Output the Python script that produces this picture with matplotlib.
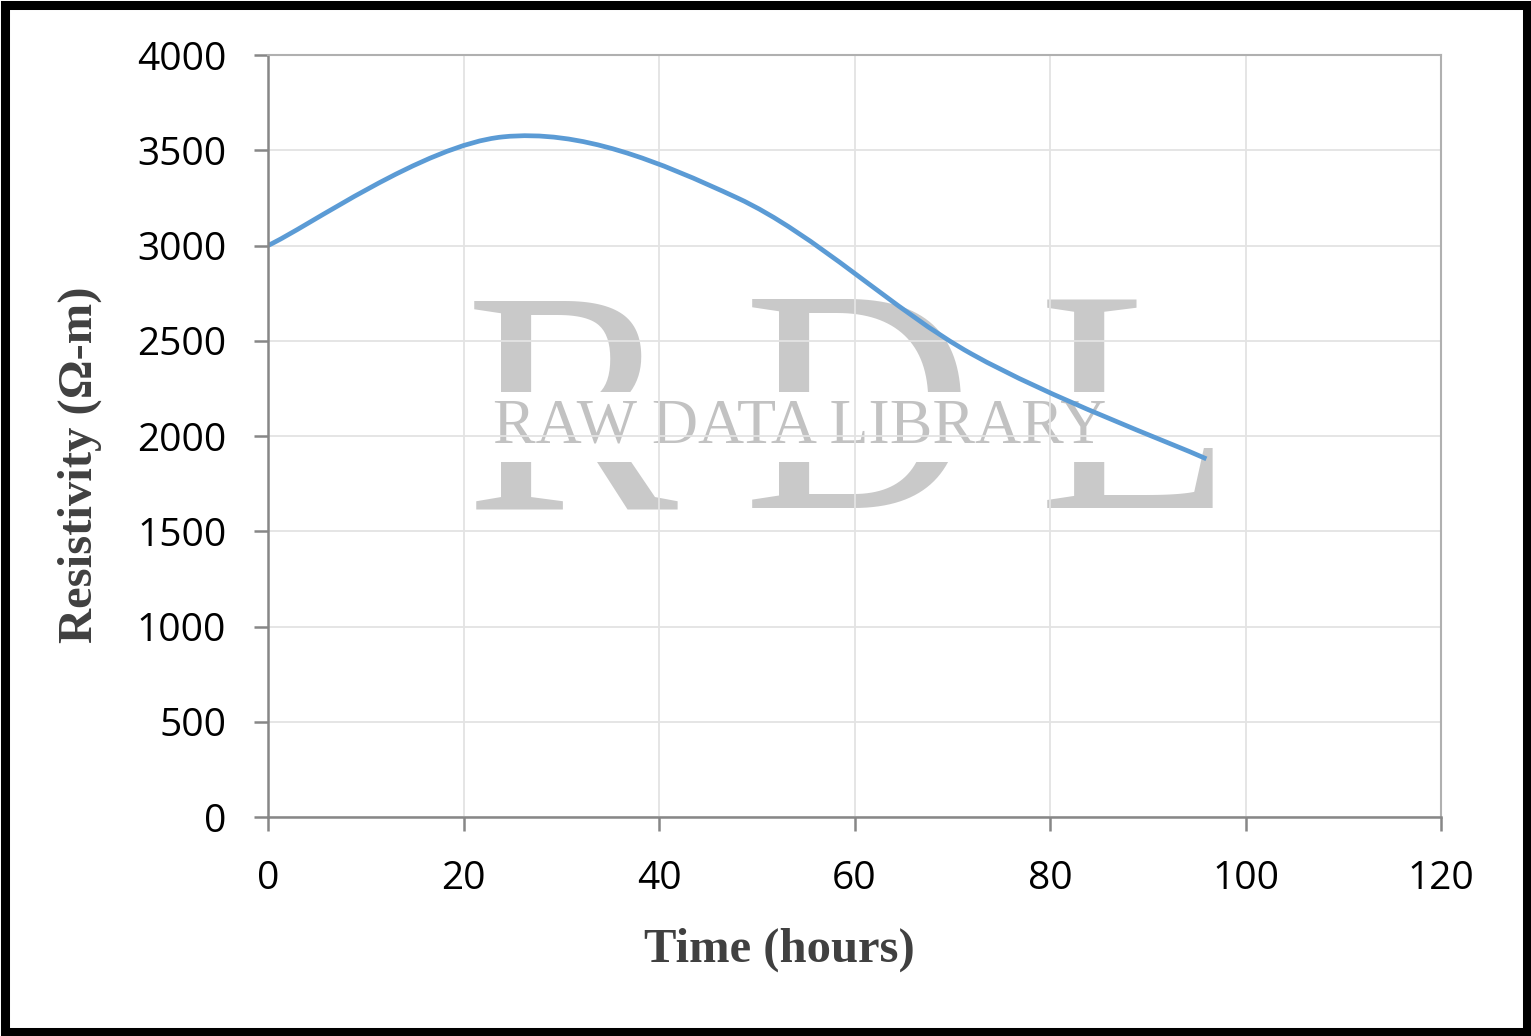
import matplotlib
matplotlib.use("Agg")
import matplotlib.pyplot as plt
from matplotlib.path import Path
from matplotlib.patches import PathPatch, Rectangle

# data
time_h = [0, 24, 48, 72, 96]
resistivity = [3000, 3570, 3250, 2430, 1880]

x_ticks = [0, 20, 40, 60, 80, 100, 120]
y_ticks = [0, 500, 1000, 1500, 2000, 2500, 3000, 3500, 4000]

fig = plt.figure(figsize=(15.31, 10.36), dpi=100)
ax = fig.add_axes([268 / 1531, 1 - 817 / 1036, (1441 - 268) / 1531, (817 - 55) / 1036])

# excel style smoothed line: cubic bezier through the data points
pts = list(zip(time_h, resistivity))
verts = [pts[0]]
codes = [Path.MOVETO]
for i in range(len(pts) - 1):
    p0 = pts[max(i - 1, 0)]
    p1 = pts[i]
    p2 = pts[i + 1]
    p3 = pts[min(i + 2, len(pts) - 1)]
    c1 = (p1[0] + (p2[0] - p0[0]) / 6, p1[1] + (p2[1] - p0[1]) / 6)
    c2 = (p2[0] - (p3[0] - p1[0]) / 6, p2[1] - (p3[1] - p1[1]) / 6)
    verts += [c1, c2, p2]
    codes += [Path.CURVE4] * 3
ax.add_patch(PathPatch(Path(verts, codes), facecolor="none", edgecolor="#5b9bd5",
                       lw=3.4, zorder=2, capstyle="butt"))

# watermark
wm = "#c9c9c9"
for letter, xl in [("R", 465), ("D", 743), ("L", 1038)]:
    ax.text((xl - 268) / 1173, (817 - 508) / 762, letter, transform=ax.transAxes,
            fontsize=230, family="Liberation Serif", color=wm, ha="left",
            va="baseline", zorder=0.1)
ax.text((800 - 268) / 1173, (817 - 442) / 762, "RAW DATA LIBRARY", transform=ax.transAxes,
        fontsize=46, family="Liberation Serif", color="#c2c2c2", ha="center",
        va="baseline", zorder=0.2,
        bbox=dict(facecolor="white", edgecolor="none", pad=4))

ax.set_xlim(0, 120)
ax.set_ylim(0, 4000)
ax.set_xticks(x_ticks)
ax.set_yticks(y_ticks)
ax.grid(True, color="#e3e3e3", lw=1.3)
ax.set_axisbelow(True)

for s in ["left", "bottom"]:
    ax.spines[s].set_color("#878787")
    ax.spines[s].set_linewidth(1.8)
for s in ["top", "right"]:
    ax.spines[s].set_color("#b0b0b0")
    ax.spines[s].set_linewidth(1.5)

ax.tick_params(direction="out", length=10, width=1.8, color="#878787",
               labelsize=28, labelcolor="black")
ax.tick_params(axis="y", pad=20)
ax.tick_params(axis="x", pad=21)
for lab in ax.get_xticklabels() + ax.get_yticklabels():
    lab.set_family("Open Sans")

ax.set_xlabel("Time (hours)", family="Liberation Serif", fontweight="bold",
              fontsize=35, color="#404040")
ax.xaxis.label.set_va("center")
ax.xaxis.set_label_coords((779 - 268) / 1173, (817 - 950) / 762)
ax.set_ylabel("Resistivity (\u03a9-m)", family="Liberation Serif", fontweight="bold",
              fontsize=35, color="#404040")
ax.yaxis.label.set_va("center")
ax.yaxis.set_label_coords((80 - 268) / 1173, (817 - 465) / 762)

# black outer frame
fig.patches.append(Rectangle((4.5 / 1531, 4.5 / 1036), 1 - 9 / 1531, 1 - 9 / 1036,
                             transform=fig.transFigure, fill=False,
                             edgecolor="black", lw=6.5))

fig.savefig("out.png", dpi=100)
